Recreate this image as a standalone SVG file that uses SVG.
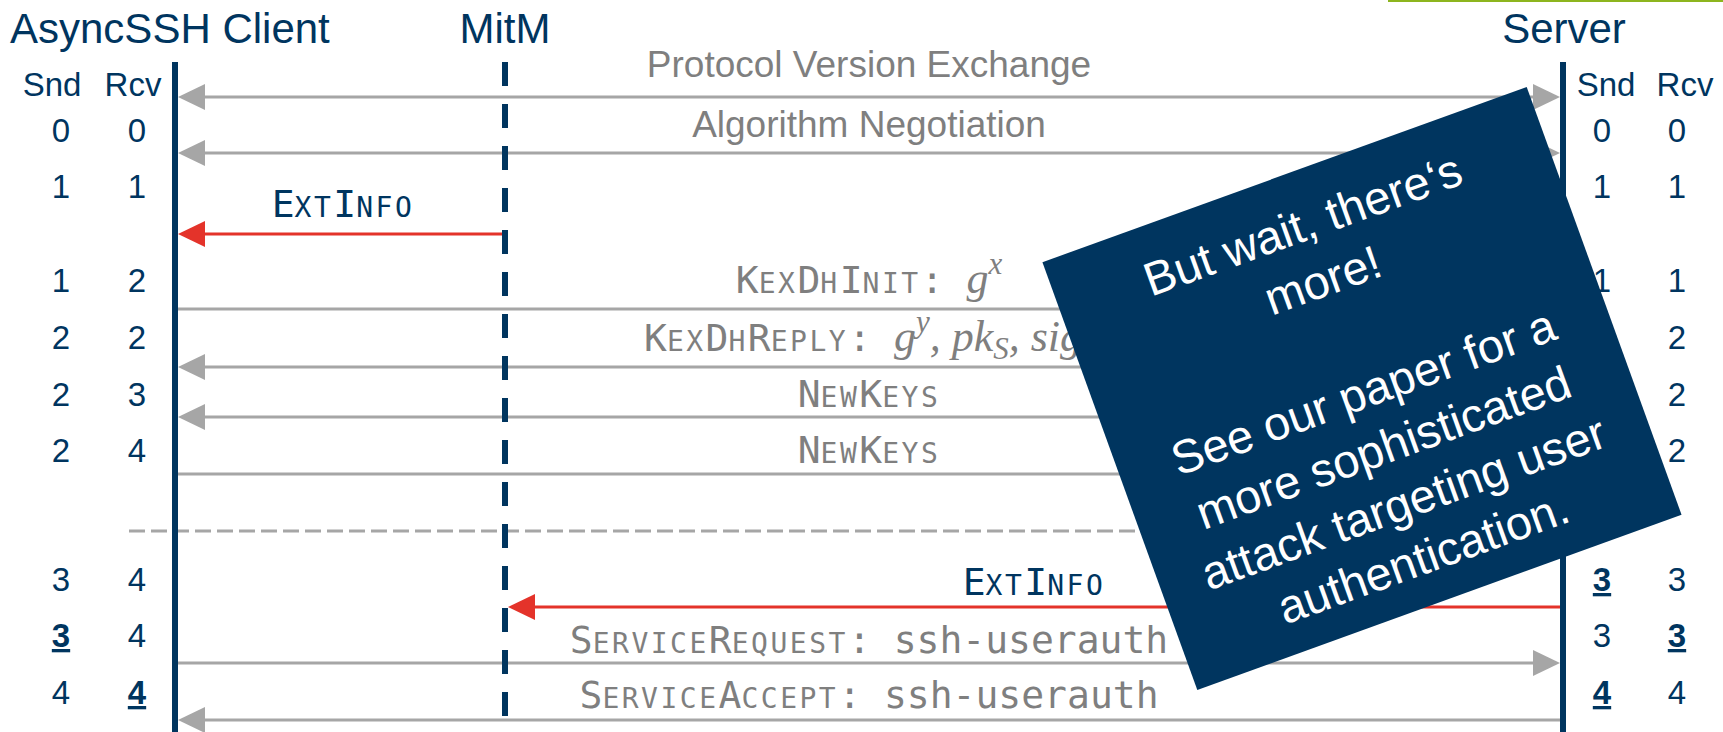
<svg xmlns="http://www.w3.org/2000/svg" width="1723" height="732" viewBox="0 0 1723 732">
<style>
.hdr{font-family:"Liberation Sans",Arial,sans-serif;font-size:42px;fill:#00355f}
.num{font-family:"Liberation Sans",Arial,sans-serif;font-size:33px;fill:#00355f;text-anchor:middle}
.b{font-weight:bold;text-decoration:underline}
.lbl{font-family:"Liberation Sans",Arial,sans-serif;font-size:37px;fill:#7f7f7f;text-anchor:middle}
.mono{font-family:"DejaVu Sans Mono","Liberation Mono",monospace;font-size:38px;fill:#7f7f7f}
.navy{fill:#00355f}
.sc{font-size:28px;letter-spacing:2.5px}
.math{font-family:"Liberation Serif","DejaVu Serif",serif;font-style:italic;font-size:44px}
.msg{stroke:#a6a6a6;stroke-width:3;fill:none}
.atk{stroke:#e4332a;stroke-width:3;fill:none}
.life{stroke:#00355f;stroke-width:6;fill:none}
.note text{font-family:"Liberation Sans",Arial,sans-serif;font-size:47px;fill:#ffffff;text-anchor:middle}
</style>
<defs>
<marker id="ag" markerUnits="userSpaceOnUse" viewBox="0 0 27 26" markerWidth="27" markerHeight="26" refX="17" refY="13" orient="auto-start-reverse"><path d="M0,0 L27,13 L0,26 z" fill="#a6a6a6"/></marker>
<marker id="ar" markerUnits="userSpaceOnUse" viewBox="0 0 27 26" markerWidth="27" markerHeight="26" refX="17" refY="13" orient="auto-start-reverse"><path d="M0,0 L27,13 L0,26 z" fill="#e4332a"/></marker>
</defs>
<rect x="0" y="0" width="1723" height="732" fill="#ffffff"/>
<rect id="accent" x="1388" y="0" width="335" height="2" fill="#8db51e"/>

<g id="connectors">
<line class="msg" x1="188" y1="97" x2="1550" y2="97" marker-start="url(#ag)" marker-end="url(#ag)"/>
<line class="msg" x1="188" y1="153" x2="1550" y2="153" marker-start="url(#ag)" marker-end="url(#ag)"/>
<line class="atk" x1="505" y1="234" x2="188" y2="234" marker-end="url(#ar)"/>
<line class="msg" x1="178" y1="309" x2="1550" y2="309" marker-end="url(#ag)"/>
<line class="msg" x1="1560" y1="367" x2="188" y2="367" marker-end="url(#ag)"/>
<line class="msg" x1="1560" y1="417" x2="188" y2="417" marker-end="url(#ag)"/>
<line class="msg" x1="178" y1="474" x2="1550" y2="474" marker-end="url(#ag)"/>
<line class="msg" x1="129" y1="531" x2="1560" y2="531" stroke-dasharray="16 6"/>
<line class="atk" x1="1560" y1="607" x2="518" y2="607" marker-end="url(#ar)"/>
<line class="msg" x1="178" y1="663" x2="1550" y2="663" marker-end="url(#ag)"/>
<line class="msg" x1="1560" y1="720" x2="188" y2="720" marker-end="url(#ag)"/>
</g>

<g id="client">
<text class="hdr" x="10" y="43">AsyncSSH Client</text>
<line class="life" x1="175" y1="62" x2="175" y2="732"/>
<text class="num" x="52" y="96">Snd</text>
<text class="num" x="133" y="96">Rcv</text>
<text class="num" x="61" y="142">0</text><text class="num" x="137" y="142">0</text>
<text class="num" x="61" y="198">1</text><text class="num" x="137" y="198">1</text>
<text class="num" x="61" y="292">1</text><text class="num" x="137" y="292">2</text>
<text class="num" x="61" y="349">2</text><text class="num" x="137" y="349">2</text>
<text class="num" x="61" y="406">2</text><text class="num" x="137" y="406">3</text>
<text class="num" x="61" y="462">2</text><text class="num" x="137" y="462">4</text>
<text class="num" x="61" y="591">3</text><text class="num" x="137" y="591">4</text>
<text class="num b" x="61" y="647">3</text><text class="num" x="137" y="647">4</text>
<text class="num" x="61" y="704">4</text><text class="num b" x="137" y="704">4</text>
</g>

<g id="mitm">
<text class="hdr" x="505" y="43" text-anchor="middle">MitM</text>
<line class="life" x1="505" y1="62" x2="505" y2="732" stroke-width="5" stroke-dasharray="24 18"/>
</g>

<g id="server">
<text class="hdr" x="1564" y="43" text-anchor="middle">Server</text>
<line class="life" x1="1563" y1="62" x2="1563" y2="732" stroke-width="5"/>
<text class="num" x="1606" y="96">Snd</text>
<text class="num" x="1685" y="96">Rcv</text>
<text class="num" x="1602" y="142">0</text><text class="num" x="1677" y="142">0</text>
<text class="num" x="1602" y="198">1</text><text class="num" x="1677" y="198">1</text>
<text class="num" x="1602" y="292">1</text><text class="num" x="1677" y="292">1</text>
<text class="num" x="1677" y="349">2</text>
<text class="num" x="1677" y="406">2</text>
<text class="num" x="1677" y="462">2</text>
<text class="num b" x="1602" y="591">3</text><text class="num" x="1677" y="591">3</text>
<text class="num" x="1602" y="647">3</text><text class="num b" x="1677" y="647">3</text>
<text class="num b" x="1602" y="704">4</text><text class="num" x="1677" y="704">4</text>
</g>

<g id="labels">
<text class="lbl" x="869" y="77">Protocol Version Exchange</text>
<text class="lbl" x="869" y="137">Algorithm Negotiation</text>
<text class="mono navy" x="343" y="217" text-anchor="middle">E<tspan class="sc">XT</tspan>I<tspan class="sc">NFO</tspan></text>
<text class="mono" x="869" y="293" text-anchor="middle">K<tspan class="sc">EX</tspan>D<tspan class="sc">H</tspan>I<tspan class="sc">NIT</tspan>: <tspan class="math">g<tspan font-size="31" dy="-19">x</tspan></tspan></text>
<text class="mono" x="644" y="351">K<tspan class="sc">EX</tspan>D<tspan class="sc">H</tspan>R<tspan class="sc">EPLY</tspan>: <tspan class="math">g<tspan font-size="31" dy="-19">y</tspan><tspan dy="19">, pk</tspan><tspan font-size="31" dy="8">S</tspan><tspan dy="-8">, sig</tspan><tspan font-size="31" dy="8">S</tspan></tspan></text>
<text class="mono" x="869" y="407" text-anchor="middle">N<tspan class="sc">EW</tspan>K<tspan class="sc">EYS</tspan></text>
<text class="mono" x="869" y="463" text-anchor="middle">N<tspan class="sc">EW</tspan>K<tspan class="sc">EYS</tspan></text>
<text class="mono navy" x="1034" y="595" text-anchor="middle">E<tspan class="sc">XT</tspan>I<tspan class="sc">NFO</tspan></text>
<text class="mono" x="869" y="653" text-anchor="middle">S<tspan class="sc">ERVICE</tspan>R<tspan class="sc">EQUEST</tspan>: ssh-userauth</text>
<text class="mono" x="869" y="708" text-anchor="middle">S<tspan class="sc">ERVICE</tspan>A<tspan class="sc">CCEPT</tspan>: ssh-userauth</text>
</g>

<g id="note" class="note" transform="translate(1362 388.5) rotate(-19.9)">
<rect x="-257.5" y="-227.5" width="515" height="455" fill="#00355f"/>
<text x="0" y="-158">But wait, there‘s</text>
<text x="0" y="-99">more!</text>
<text x="0" y="20">See our paper for a</text>
<text x="0" y="79">more sophisticated</text>
<text x="0" y="138">attack targeting user</text>
<text x="0" y="196">authentication.</text>
</g>
</svg>
